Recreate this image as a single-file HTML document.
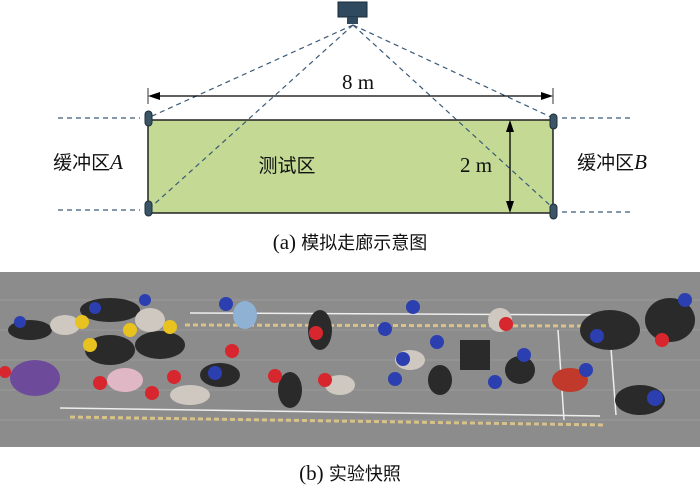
<!DOCTYPE html>
<html><head><meta charset="utf-8"><style>
body{margin:0;background:#fff;width:700px;height:496px;overflow:hidden;font-family:"Liberation Serif","Noto Serif CJK SC",serif;}
</style></head><body>
<svg width="700" height="496" viewBox="0 0 700 496" xmlns="http://www.w3.org/2000/svg">
<rect x="148" y="120" width="405" height="93" fill="#c3d994" stroke="#222" stroke-width="1.5"/>
<g stroke="#3b5a78" stroke-width="1.2" stroke-dasharray="5,4" fill="none">
<line x1="353" y1="25" x2="150" y2="117"/>
<line x1="353" y1="25" x2="150" y2="208"/>
<line x1="353" y1="25" x2="553" y2="208"/>
<line x1="353" y1="25" x2="553" y2="118"/>
<line x1="58" y1="118" x2="140" y2="118"/>
<line x1="58" y1="210" x2="140" y2="210"/>
<line x1="562" y1="118" x2="634" y2="118"/>
<line x1="562" y1="212" x2="634" y2="212"/>
</g>
<rect x="338" y="2" width="29" height="15" fill="#2f4a5e" stroke="#1a2a36"/>
<rect x="347" y="17" width="11" height="7" fill="#2f4a5e"/>
<g fill="#3a5468" stroke="#1e2e3a">
<rect x="145" y="111" width="7" height="15" rx="3.5"/>
<rect x="145" y="201" width="7" height="15" rx="3.5"/>
<rect x="550" y="114" width="7" height="15" rx="3.5"/>
<rect x="550" y="204" width="7" height="15" rx="3.5"/>
</g>
<g stroke="#000" stroke-width="1.3" fill="#000">
<line x1="148" y1="88" x2="148" y2="104" stroke-width="0.8"/>
<line x1="553" y1="88" x2="553" y2="104" stroke-width="0.8"/>
<line x1="155" y1="96" x2="546" y2="96"/>
<polygon points="148,96 160,92 160,100" stroke="none"/>
<polygon points="553,96 541,92 541,100" stroke="none"/>
<line x1="510" y1="128" x2="510" y2="205"/>
<polygon points="510,120 506,132 514,132" stroke="none"/>
<polygon points="510,213 506,201 514,201" stroke="none"/>
</g>
<g font-size="21" fill="#111" text-anchor="middle">
<text x="358" y="89">8 m</text>
<text x="476" y="172">2 m</text>
<text x="287" y="172" font-family="'Noto Sans CJK SC',sans-serif" font-size="19">测试区</text>
<text x="88" y="169"><tspan font-family="'Noto Sans CJK SC',sans-serif" font-size="19">缓冲区</tspan><tspan font-style="italic">A</tspan></text>
<text x="612" y="169"><tspan font-family="'Noto Sans CJK SC',sans-serif" font-size="19">缓冲区</tspan><tspan font-style="italic">B</tspan></text>
<text x="350" y="249">(a) <tspan font-family="'Noto Sans CJK SC',sans-serif" font-size="18">模拟走廊示意图</tspan></text>
<text x="350" y="480">(b) <tspan font-family="'Noto Sans CJK SC',sans-serif" font-size="18">实验快照</tspan></text>
</g>
<!-- photo -->
<rect x="0" y="272" width="700" height="175" fill="#8c8c8c"/>
<g stroke="#9a9a9a" stroke-width="1">
<line x1="0" y1="300" x2="700" y2="300"/><line x1="0" y1="330" x2="700" y2="330"/>
<line x1="0" y1="360" x2="700" y2="360"/><line x1="0" y1="390" x2="700" y2="390"/>
<line x1="0" y1="420" x2="700" y2="420"/>
</g>
<g stroke="#d9c28a" stroke-width="3" stroke-dasharray="5,3">
<line x1="185" y1="325" x2="585" y2="326"/>
<line x1="70" y1="417" x2="605" y2="425"/>
</g>
<g stroke="#eee" stroke-width="1.5">
<line x1="190" y1="313" x2="610" y2="315"/>
<line x1="60" y1="408" x2="600" y2="416"/>
<line x1="558" y1="330" x2="564" y2="420"/>
<line x1="610" y1="335" x2="616" y2="415"/>
</g>
<g fill="#2a2a2a">
<ellipse cx="30" cy="330" rx="22" ry="10"/><ellipse cx="110" cy="310" rx="30" ry="12"/>
<ellipse cx="110" cy="350" rx="25" ry="15"/><ellipse cx="160" cy="345" rx="25" ry="14"/>
<ellipse cx="320" cy="330" rx="12" ry="20"/><ellipse cx="220" cy="375" rx="20" ry="12"/>
<ellipse cx="290" cy="390" rx="12" ry="18"/><ellipse cx="520" cy="370" rx="15" ry="14"/>
<ellipse cx="610" cy="330" rx="30" ry="20"/><ellipse cx="670" cy="320" rx="25" ry="22"/>
<ellipse cx="640" cy="400" rx="25" ry="15"/><ellipse cx="440" cy="380" rx="12" ry="15"/>
<rect x="460" y="340" width="30" height="30"/>
</g>
<g fill="#cfc8c0">
<ellipse cx="65" cy="325" rx="15" ry="10"/><ellipse cx="150" cy="320" rx="15" ry="12"/>
<ellipse cx="410" cy="360" rx="15" ry="10"/><ellipse cx="500" cy="320" rx="12" ry="12"/>
<ellipse cx="340" cy="385" rx="15" ry="10"/><ellipse cx="190" cy="395" rx="20" ry="10"/>
</g>
<ellipse cx="245" cy="315" rx="12" ry="14" fill="#8fb1d3"/>
<ellipse cx="35" cy="378" rx="25" ry="18" fill="#6e4a9a"/>
<ellipse cx="125" cy="380" rx="18" ry="12" fill="#e0b7c4"/>
<ellipse cx="570" cy="380" rx="18" ry="12" fill="#c0392b"/>
<g fill="#d8262e">
<circle cx="316" cy="333" r="7"/><circle cx="232" cy="351" r="7"/><circle cx="506" cy="324" r="7"/>
<circle cx="662" cy="340" r="7"/><circle cx="5" cy="372" r="6"/><circle cx="100" cy="383" r="7"/>
<circle cx="174" cy="377" r="7"/><circle cx="275" cy="376" r="7"/><circle cx="325" cy="380" r="7"/>
<circle cx="152" cy="393" r="7"/>
</g>
<g fill="#2c3fb0">
<circle cx="20" cy="322" r="6"/><circle cx="95" cy="308" r="6"/><circle cx="145" cy="300" r="6"/>
<circle cx="226" cy="304" r="7"/><circle cx="413" cy="307" r="7"/><circle cx="385" cy="329" r="7"/>
<circle cx="437" cy="342" r="7"/><circle cx="524" cy="355" r="7"/><circle cx="597" cy="336" r="7"/>
<circle cx="685" cy="300" r="7"/><circle cx="403" cy="359" r="7"/><circle cx="215" cy="373" r="7"/>
<circle cx="395" cy="379" r="7"/><circle cx="495" cy="382" r="7"/><circle cx="586" cy="370" r="7"/>
<circle cx="655" cy="398" r="8"/>
</g>
<g fill="#e8c21e">
<circle cx="82" cy="322" r="7"/><circle cx="130" cy="330" r="7"/><circle cx="170" cy="327" r="7"/>
<circle cx="90" cy="345" r="7"/>
</g>
</svg>
</body></html>
